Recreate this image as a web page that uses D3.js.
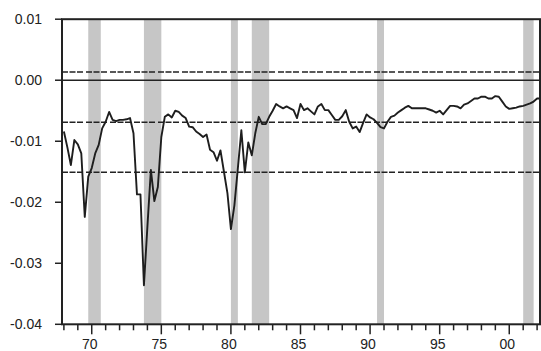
<!DOCTYPE html>
<html>
<head>
<meta charset="utf-8">
<script src="https://cdn.jsdelivr.net/npm/d3@7"></script>
<style>
  body { margin: 0; background: #fff; }
  svg { display: block; font-family: "Liberation Sans", Arial, sans-serif; }
</style>
</head>
<body>
<div id="chart"></div>
<script>
// quarterly series, first observation 1968Q1
const startYear = 1968;
const values = [
  -0.0084, -0.0110, -0.0139, -0.0098, -0.0105, -0.0120, -0.0224, -0.0158,
  -0.0144, -0.0120, -0.0106, -0.0079, -0.0068, -0.0052, -0.0065, -0.0067,
  -0.0065, -0.0065, -0.0064, -0.0062, -0.0087, -0.0187, -0.0187, -0.0336,
  -0.0240, -0.0147, -0.0198, -0.0175, -0.0093, -0.0060, -0.0056, -0.0061,
  -0.0050, -0.0052, -0.0058, -0.0062, -0.0076, -0.0077, -0.0084, -0.0088,
  -0.0093, -0.0089, -0.0114, -0.0118, -0.0132, -0.0115, -0.0150, -0.0185,
  -0.0244, -0.0205, -0.0144, -0.0082, -0.0151, -0.0102, -0.0123, -0.0087,
  -0.0060, -0.0072, -0.0072, -0.0060, -0.0050, -0.0039, -0.0043, -0.0046,
  -0.0043, -0.0046, -0.0049, -0.0062, -0.0039, -0.0049, -0.0046, -0.0051,
  -0.0056, -0.0043, -0.0039, -0.0049, -0.0049, -0.0057, -0.0065, -0.0065,
  -0.0059, -0.0049, -0.0068, -0.0079, -0.0076, -0.0085, -0.0070, -0.0056,
  -0.0061, -0.0064, -0.0070, -0.0077, -0.0079, -0.0068, -0.0060, -0.0058,
  -0.0053, -0.0049, -0.0045, -0.0042, -0.0046, -0.0046, -0.0046, -0.0046,
  -0.0046, -0.0048, -0.0050, -0.0053, -0.0050, -0.0056, -0.0049, -0.0042,
  -0.0042, -0.0043, -0.0046, -0.0040, -0.0038, -0.0034, -0.0030, -0.0030,
  -0.0027, -0.0027, -0.0030, -0.0030, -0.0026, -0.0027, -0.0035, -0.0043,
  -0.0047, -0.0046, -0.0045, -0.0043, -0.0042, -0.0040, -0.0038, -0.0035,
  -0.0030, -0.0030,
];

// shaded recessions (start, end), in years
const recessions = [
  [1969.75, 1970.65],
  [1973.75, 1975.0],
  [1980.0, 1980.5],
  [1981.5, 1982.75],
  [1990.5, 1991.0],
  [2001.0, 2001.75],
];

// upper band, mean, lower band
const bands = [0.00135, -0.0069, -0.0151];

const yTicks = [0.01, 0.0, -0.01, -0.02, -0.03, -0.04];
const xYears = d3.range(1968, 2003);
const xLabels = [1970, 1975, 1980, 1985, 1990, 1995, 2000];

const data = values.map((v, i) => ({ t: startYear + i / 4, v: v }));

const width = 541;
const height = 351;

const x = d3.scaleLinear()
  .domain([1968, 2002])
  .range([63.9, 537.1]);
const y = d3.scaleLinear()
  .domain([-0.04, 0.01])
  .range([324.3, 19.2]);

const plotLeft = 62;
const plotRight = 540;
const plotTop = y(0.01);
const plotBottom = y(-0.04);

const svg = d3.select("#chart")
  .append("svg")
  .attr("width", width)
  .attr("height", height);

svg.append("defs")
  .append("clipPath")
  .attr("id", "plot")
  .append("rect")
  .attr("x", plotLeft)
  .attr("y", plotTop)
  .attr("width", plotRight - plotLeft)
  .attr("height", plotBottom - plotTop);

// recession shading
svg.append("g")
  .selectAll("rect")
  .data(recessions)
  .enter()
  .append("rect")
  .attr("x", (d) => x(d[0]))
  .attr("y", plotTop)
  .attr("width", (d) => x(d[1]) - x(d[0]))
  .attr("height", plotBottom - plotTop)
  .style("fill", "#c6c6c6");

// zero line
svg.append("line")
  .attr("x1", plotLeft)
  .attr("x2", plotRight)
  .attr("y1", y(0))
  .attr("y2", y(0))
  .style("stroke", "#222")
  .style("stroke-width", 1.5);

// mean and bands
svg.append("g")
  .selectAll("line")
  .data(bands)
  .enter()
  .append("line")
  .attr("x1", plotLeft)
  .attr("x2", plotRight)
  .attr("y1", (d) => y(d))
  .attr("y2", (d) => y(d))
  .style("stroke", "#222")
  .style("stroke-width", 1.5)
  .style("stroke-dasharray", "6,1.5,6,1.5,6,3");

const line = d3.line()
  .x((d) => x(d.t))
  .y((d) => y(d.v));

svg.append("path")
  .datum(data)
  .attr("clip-path", "url(#plot)")
  .attr("d", line)
  .style("fill", "none")
  .style("stroke", "#1e1e1e")
  .style("stroke-width", 1.9)
  .style("stroke-linejoin", "round");

// frame
svg.append("rect")
  .attr("x", plotLeft)
  .attr("y", plotTop)
  .attr("width", plotRight - plotLeft)
  .attr("height", plotBottom - plotTop)
  .style("fill", "none")
  .style("stroke", "#222")
  .style("stroke-width", 2);

// y axis
const yAxis = svg.append("g");
yAxis.selectAll("line")
  .data(yTicks)
  .enter()
  .append("line")
  .attr("x1", plotLeft - 7)
  .attr("x2", plotLeft)
  .attr("y1", (d) => y(d))
  .attr("y2", (d) => y(d))
  .style("stroke", "#222")
  .style("stroke-width", 1.5);
yAxis.selectAll("text")
  .data(yTicks)
  .enter()
  .append("text")
  .attr("x", 42)
  .attr("y", (d) => y(d))
  .attr("dy", "0.36em")
  .attr("text-anchor", "end")
  .style("font-size", "14px")
  .style("fill", "#222")
  .text((d) => d3.format(".2f")(d).replace("−", "-"));

// x axis
const xAxis = svg.append("g");
xAxis.selectAll("line")
  .data(xYears)
  .enter()
  .append("line")
  .attr("x1", (d) => x(d))
  .attr("x2", (d) => x(d))
  .attr("y1", plotBottom)
  .attr("y2", (d) => plotBottom + (xLabels.includes(d) ? 10 : 6))
  .style("stroke", "#222")
  .style("stroke-width", 1.5);
xAxis.selectAll("text")
  .data(xLabels)
  .enter()
  .append("text")
  .attr("x", (d) => x(d) - 2)
  .attr("y", 349)
  .attr("text-anchor", "middle")
  .style("font-size", "14px")
  .style("fill", "#222")
  .text((d) => String(d % 100).padStart(2, "0"));
</script>
</body>
</html>
